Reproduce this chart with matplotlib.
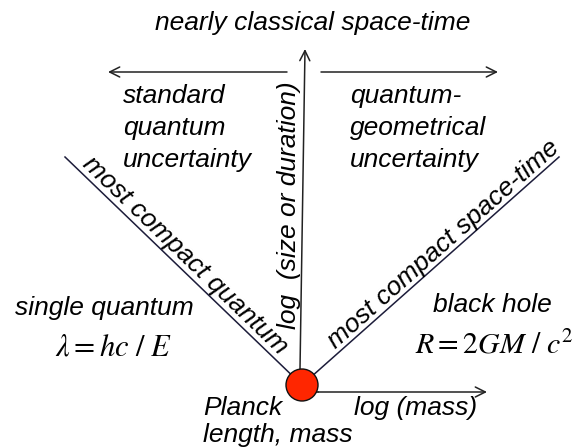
import numpy as np
import matplotlib
matplotlib.use("Agg")
import matplotlib.pyplot as plt
from matplotlib.patches import Circle

plt.rcParams['font.family'] = ['Liberation Sans', 'DejaVu Sans']
plt.rcParams['mathtext.fontset'] = 'stix'

# key points of the diagram (pixel space, y down)
planck = (302, 385)
planck_r = 16
top_quantum = (65, 157)       # end of "most compact quantum" line
top_spacetime = (559, 157)    # end of "most compact space-time" line
size_axis = [(300, 369), (305, 49)]
mass_axis = [(318, 392), (487, 392)]
left_arrow = [(287, 72), (108, 72)]
right_arrow = [(321, 72), (498, 72)]

# plain labels: text, x, baseline y
labels = [
    ('nearly classical space-time', 313, 30, 'center'),
    ('standard', 123, 103, 'left'),
    ('quantum', 123, 135, 'left'),
    ('uncertainty', 123, 167, 'left'),
    ('quantum-', 350, 103, 'left'),
    ('geometrical', 350, 135, 'left'),
    ('uncertainty', 350, 167, 'left'),
    ('single quantum', 15, 315, 'left'),
    ('black hole', 433, 312, 'left'),
    ('Planck', 203, 415, 'left'),
    ('length, mass', 203, 442, 'left'),
    ('log (mass)', 354, 415, 'left'),
]
formulas = [
    (r'$\lambda = hc\ /\ E$', 55, 355, 22),
    (r'$R = 2GM\ /\ c^2$', 415, 354, 21.5),
]
fs = 19

fig = plt.figure(figsize=(5.81, 4.48), dpi=100)
ax = fig.add_axes([0, 0, 1, 1])
ax.set_xlim(0, 581)
ax.set_ylim(448, 0)
ax.axis('off')

# diagonal lines
for p in [top_quantum, top_spacetime]:
    ax.plot([p[0], planck[0]], [p[1], planck[1]], color='#1c1c3a', lw=1.1, zorder=2)

# arrows
arrow_kw = dict(arrowstyle='->', lw=1.1, color='#222222', mutation_scale=18,
                shrinkA=0, shrinkB=0)
for a in [size_axis, mass_axis, left_arrow, right_arrow]:
    ax.annotate('', xy=a[1], xytext=a[0], arrowprops=arrow_kw, zorder=2)
ax.plot([planck[0], mass_axis[0][0]], [mass_axis[0][1], mass_axis[0][1]],
        color='#222222', lw=1.1, zorder=2)

ax.add_patch(Circle(planck, planck_r, facecolor='#ff2600', edgecolor='#111111',
                    lw=1.0, zorder=5))

for t, x, y, h in labels:
    ax.text(x, y, t, fontsize=fs, style='italic', ha=h, va='baseline')
for t, x, y, s in formulas:
    ax.text(x, y, t, fontsize=s, ha='left', va='baseline')

# vertical axis label
ax.text(296, 205, 'log  (size or duration)', fontsize=fs, style='italic',
        rotation=90, ha='center', va='baseline', rotation_mode='anchor')

# labels along the diagonals
def along(p0, p1, frac, text):
    x = p0[0] + frac * (p1[0] - p0[0])
    y = p0[1] + frac * (p1[1] - p0[1])
    ang = np.degrees(np.arctan2(-(p1[1] - p0[1]), p1[0] - p0[0]))
    ax.text(x, y, text, fontsize=fs, style='italic', rotation=ang,
            rotation_mode='anchor', ha='center', va='bottom')

along(top_quantum, planck, 0.47, 'most compact quantum')
along(planck, top_spacetime, 0.58, 'most compact space-time')

fig.savefig('out.png', dpi=100)
